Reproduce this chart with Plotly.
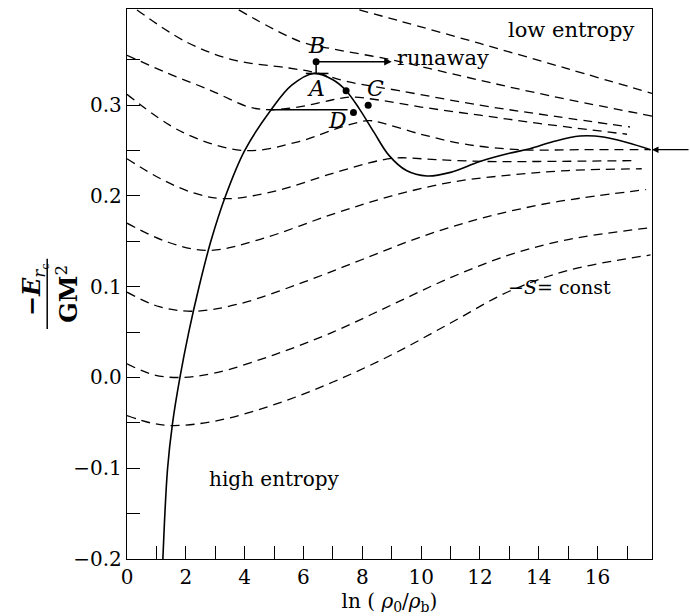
import plotly.graph_objects as go

# Equilibrium sequence (solid curve): ln(rho0/rhob) vs -E r_c / GM^2
eq_x = [1.22, 1.38, 1.55, 1.80, 2.10, 2.45, 2.85, 3.35, 4.00, 4.90, 5.60, 6.35, 7.00, 7.45, 7.90, 8.40, 8.90, 9.50, 10.20, 11.00, 12.00, 13.00, 13.70, 14.50, 15.40, 16.20, 17.00, 17.80]
eq_y = [-0.200, -0.100, -0.050, 0.000, 0.050, 0.100, 0.150, 0.200, 0.250, 0.295, 0.322, 0.335, 0.328, 0.316, 0.296, 0.270, 0.245, 0.228, 0.222, 0.226, 0.238, 0.247, 0.252, 0.260, 0.266, 0.265, 0.259, 0.251]

# Constant-entropy curves (dashed), from low entropy (top) to high entropy (bottom)
s_curves = [
    ([7.90, 9.25, 12.00, 15.00, 17.85], [0.405, 0.393, 0.368, 0.340, 0.313]),
    ([3.80, 5.90, 7.00, 9.00, 11.00, 14.00, 17.85], [0.405, 0.370, 0.362, 0.350, 0.335, 0.313, 0.288]),
    ([0.34, 2.00, 3.60, 5.50, 6.40, 7.50, 9.25, 12.00, 14.50, 17.10], [0.405, 0.370, 0.350, 0.341, 0.336, 0.326, 0.316, 0.300, 0.288, 0.276]),
    ([0.00, 1.40, 2.80, 4.15, 4.90, 6.00, 7.00, 7.60, 8.50, 10.00, 12.00, 14.00, 17.00], [0.355, 0.335, 0.317, 0.298, 0.295, 0.299, 0.306, 0.309, 0.306, 0.298, 0.289, 0.280, 0.268]),
    ([0.00, 1.90, 4.00, 5.85, 7.20, 8.20, 8.60, 10.00, 11.50, 13.40, 15.50, 17.80], [0.312, 0.270, 0.250, 0.260, 0.275, 0.283, 0.281, 0.268, 0.257, 0.251, 0.251, 0.251]),
    ([0.00, 1.20, 2.30, 3.32, 5.00, 7.00, 8.57, 9.20, 10.50, 12.20, 14.00, 17.35], [0.241, 0.218, 0.203, 0.197, 0.205, 0.225, 0.239, 0.242, 0.240, 0.238, 0.238, 0.239]),
    ([0.00, 1.40, 2.77, 4.50, 7.00, 9.00, 11.00, 13.00, 15.00, 17.50], [0.170, 0.149, 0.140, 0.152, 0.180, 0.200, 0.215, 0.223, 0.228, 0.230]),
    ([0.00, 1.10, 2.25, 3.80, 6.00, 8.00, 10.00, 12.00, 14.00, 15.50, 17.65], [0.094, 0.078, 0.073, 0.081, 0.105, 0.130, 0.155, 0.175, 0.190, 0.198, 0.207]),
    ([0.00, 0.90, 1.80, 3.00, 5.00, 7.00, 9.00, 11.00, 13.00, 15.00, 17.80], [0.015, 0.003, 0.000, 0.005, 0.025, 0.050, 0.080, 0.110, 0.135, 0.152, 0.165]),
    ([0.00, 0.80, 1.56, 3.00, 5.00, 7.00, 9.00, 11.00, 13.00, 15.00, 17.80], [-0.042, -0.050, -0.053, -0.048, -0.030, -0.005, 0.025, 0.060, 0.095, 0.118, 0.135]),
]

# Marked states
pt_names = ["B", "A", "C", "D"]
pt_x = [6.43, 7.45, 8.20, 7.70]
pt_y = [0.348, 0.316, 0.300, 0.292]
lbl_x = [6.43, 6.43, 8.45, 7.15]
lbl_y = [0.366, 0.318, 0.318, 0.283]

x_ticks = [0, 2, 4, 6, 8, 10, 12, 14, 16]
x_minor = [1, 3, 5, 7, 9, 11, 13, 15, 17]
y_ticks = [-0.2, -0.1, 0.0, 0.1, 0.2, 0.3]
y_labels = ["\u22120.2", "\u22120.1", "0.0", "0.1", "0.2", "0.3"]
y_minor = [-0.15, -0.05, 0.05, 0.15, 0.25, 0.35]

SERIF = "DejaVu Serif"

fig = go.Figure()

for cx, cy in s_curves:
    fig.add_trace(go.Scatter(x=cx, y=cy, mode="lines",
                             line=dict(color="black", width=1.3, dash="9px,6px", shape="spline", smoothing=1.0),
                             hoverinfo="skip", showlegend=False))

fig.add_trace(go.Scatter(x=eq_x, y=eq_y, mode="lines",
                         line=dict(color="black", width=1.6, shape="spline", smoothing=1.0),
                         hoverinfo="skip", showlegend=False))

# Horizontal line from the equilibrium curve to D
fig.add_trace(go.Scatter(x=[4.90, 7.50], y=[0.295, 0.295], mode="lines",
                         line=dict(color="black", width=1.5), hoverinfo="skip", showlegend=False))
# B sits above the turning point A
fig.add_trace(go.Scatter(x=[pt_x[0], pt_x[0]], y=[pt_y[0], 0.335], mode="lines",
                         line=dict(color="black", width=1.5), hoverinfo="skip", showlegend=False))
fig.add_trace(go.Scatter(x=[6.08, 6.85], y=[0.335, 0.335], mode="lines",
                         line=dict(color="black", width=1.5), hoverinfo="skip", showlegend=False))

fig.add_trace(go.Scatter(x=pt_x, y=pt_y, mode="markers",
                         marker=dict(color="black", size=7), hoverinfo="skip", showlegend=False))

for name, lx, ly in zip(pt_names, lbl_x, lbl_y):
    fig.add_annotation(x=lx, y=ly, text=f"<i>{name}</i>", showarrow=False,
                       font=dict(family=SERIF, size=22, color="black"))

# runaway arrow
fig.add_annotation(x=9.0, y=pt_y[0], ax=pt_x[0], ay=pt_y[0], axref="x", ayref="y",
                   text="", showarrow=True, arrowhead=2, arrowsize=1, arrowwidth=1.5, arrowcolor="black")
fig.add_annotation(x=9.12, y=0.352, text="runaway", showarrow=False, xanchor="left",
                   font=dict(family=SERIF, size=21, color="black"))

# arrow at the right edge pointing at the end of the sequence
fig.add_annotation(x=17.85, y=eq_y[-1], ax=38, ay=0, text="", showarrow=True,
                   arrowhead=2, arrowsize=1, arrowwidth=1.3, arrowcolor="black")

fig.add_annotation(x=15.1, y=0.383, text="low entropy", showarrow=False,
                   font=dict(family=SERIF, size=21, color="black"))
fig.add_annotation(x=5.0, y=-0.112, text="high entropy", showarrow=False,
                   font=dict(family=SERIF, size=20, color="black"))
fig.add_annotation(x=14.7, y=0.100, text="\u2212<i>S</i>= const", showarrow=False,
                   font=dict(family=SERIF, size=19, color="black"))

# y-axis title drawn as a fraction
fig.add_annotation(xref="paper", yref="paper", x=-0.213, y=0.49,
                   text="<b>\u2212<i>E</i></b><sub><i>r</i><sub>c</sub></sub>", showarrow=False,
                   textangle=-90, font=dict(family=SERIF, size=24, color="black"))
fig.add_shape(type="line", xref="paper", yref="paper", x0=-0.152, x1=-0.152, y0=0.418, y1=0.546,
              line=dict(color="black", width=1.5))
fig.add_annotation(xref="paper", yref="paper", x=-0.149, y=0.482,
                   text="<b>GM</b><sup>2</sup>", showarrow=False,
                   textangle=-90, font=dict(family=SERIF, size=24, color="black"))

fig.update_xaxes(range=[0, 17.85], tickmode="array", tickvals=x_ticks,
                 ticks="inside", ticklen=13, tickwidth=1.2, tickcolor="black",
                 minor=dict(tickmode="array", tickvals=x_minor, ticks="inside", ticklen=13, tickwidth=1.2, tickcolor="black"),
                 showline=True, linecolor="black", linewidth=1.3, mirror=True,
                 showgrid=False, zeroline=False,
                 tickfont=dict(family=SERIF, size=20, color="black"),
                 title=dict(text="ln ( <i>\u03c1</i><sub>0</sub>/<i>\u03c1</i><sub>b</sub>)", standoff=5,
                            font=dict(family=SERIF, size=20, color="black")))
fig.update_yaxes(range=[-0.2, 0.406], tickmode="array", tickvals=y_ticks, ticktext=y_labels,
                 ticks="inside", ticklen=13, tickwidth=1.2, tickcolor="black",
                 minor=dict(tickmode="array", tickvals=y_minor, ticks="inside", ticklen=13, tickwidth=1.2, tickcolor="black"),
                 showline=True, linecolor="black", linewidth=1.3, mirror=True,
                 showgrid=False, zeroline=False,
                 tickfont=dict(family=SERIF, size=20, color="black"))

fig.update_layout(width=690, height=616, margin=dict(l=127, r=38, t=8, b=49),
                  paper_bgcolor="white", plot_bgcolor="white", showlegend=False)

fig.write_html("out.html")
